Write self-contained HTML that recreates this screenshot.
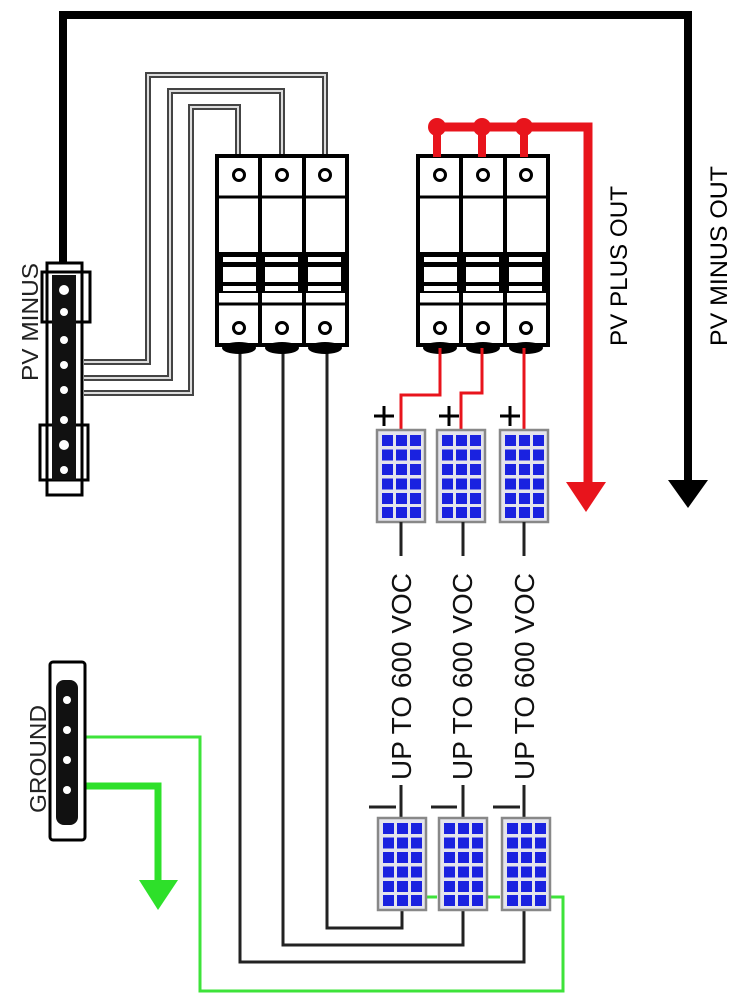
<!DOCTYPE html>
<html><head><meta charset="utf-8"><style>body{margin:0;background:#fff}svg{display:block}</style></head><body>
<svg width="735" height="1002" viewBox="0 0 735 1002" xmlns="http://www.w3.org/2000/svg" font-family="Liberation Sans, sans-serif">
<defs>
<g id="brk">
  <rect x="0" y="0" width="130" height="189" fill="#fff" stroke="#000" stroke-width="4"/>
  <line x1="43" y1="0" x2="43" y2="189" stroke="#000" stroke-width="4"/>
  <line x1="87" y1="0" x2="87" y2="189" stroke="#000" stroke-width="4"/>
  <line x1="0" y1="41" x2="130" y2="41" stroke="#000" stroke-width="3"/>
  <rect x="2" y="96" width="126" height="41" fill="#000"/>
  <rect x="6" y="101" width="33" height="5" fill="#fff"/><rect x="48" y="101" width="33" height="5" fill="#fff"/><rect x="91" y="101" width="33" height="5" fill="#fff"/>
  <rect x="6" y="111" width="33" height="15" fill="#fff"/><rect x="48" y="111" width="33" height="15" fill="#fff"/><rect x="91" y="111" width="33" height="15" fill="#fff"/>
  <rect x="6" y="130" width="33" height="5" fill="#fff"/><rect x="48" y="130" width="33" height="5" fill="#fff"/><rect x="91" y="130" width="33" height="5" fill="#fff"/>
  <line x1="0" y1="148" x2="130" y2="148" stroke="#000" stroke-width="3"/>
  <g fill="none" stroke="#000" stroke-width="3">
   <circle cx="22" cy="19" r="5.5"/><circle cx="65" cy="19" r="5.5"/><circle cx="108" cy="19" r="5.5"/>
   <circle cx="22" cy="172" r="5.5"/><circle cx="65" cy="172" r="5.5"/><circle cx="108" cy="172" r="5.5"/>
  </g>
  <ellipse cx="22" cy="192" rx="17" ry="6" fill="#000"/><ellipse cx="65" cy="192" rx="17" ry="6" fill="#000"/><ellipse cx="108" cy="192" rx="17" ry="6" fill="#000"/>
</g>
<g id="pnl">
  <rect x="0" y="0" width="48" height="92" fill="#e4e4ec" stroke="#888" stroke-width="2.5"/>
  <g fill="#1a22e0">
   <rect x="5" y="5" width="11" height="11"/><rect x="19" y="5" width="11" height="11"/><rect x="33" y="5" width="11" height="11"/>
   <rect x="5" y="19.5" width="11" height="11"/><rect x="19" y="19.5" width="11" height="11"/><rect x="33" y="19.5" width="11" height="11"/>
   <rect x="5" y="34" width="11" height="11"/><rect x="19" y="34" width="11" height="11"/><rect x="33" y="34" width="11" height="11"/>
   <rect x="5" y="48.5" width="11" height="11"/><rect x="19" y="48.5" width="11" height="11"/><rect x="33" y="48.5" width="11" height="11"/>
   <rect x="5" y="63" width="11" height="11"/><rect x="19" y="63" width="11" height="11"/><rect x="33" y="63" width="11" height="11"/>
   <rect x="5" y="77" width="11" height="11"/><rect x="19" y="77" width="11" height="11"/><rect x="33" y="77" width="11" height="11"/>
  </g>
</g>
</defs>

<polyline points="63,262 63,15 688,15 688,482" fill="none" stroke="#000" stroke-width="8"/>
<polygon points="668,480 708,480 688,508" fill="#000"/>

<g fill="none" stroke-linejoin="miter">
 <polyline points="84,362 148,362 148,75 325,75 325,158" stroke="#444" stroke-width="6"/>
 <polyline points="84,378 170,378 170,91 282,91 282,158" stroke="#444" stroke-width="6"/>
 <polyline points="84,393 191,393 191,107 238,107 238,158" stroke="#444" stroke-width="6"/>
 <polyline points="84,362 148,362 148,75 325,75 325,158" stroke="#ddd" stroke-width="2"/>
 <polyline points="84,378 170,378 170,91 282,91 282,158" stroke="#ddd" stroke-width="2"/>
 <polyline points="84,393 191,393 191,107 238,107 238,158" stroke="#ddd" stroke-width="2"/>
</g>

<rect x="47" y="263" width="35" height="232" fill="#fff" stroke="#000" stroke-width="3"/>
<rect x="42" y="272" width="48" height="50" fill="none" stroke="#000" stroke-width="3"/>
<rect x="40" y="425" width="48" height="55" fill="none" stroke="#000" stroke-width="3"/>
<rect x="52" y="275" width="24" height="205" fill="#111"/>
<g fill="#fff"><circle cx="64" cy="290" r="5"/><circle cx="64" cy="312" r="4"/><circle cx="64" cy="340" r="4"/><circle cx="64" cy="365" r="4"/><circle cx="64" cy="390" r="4"/><circle cx="64" cy="420" r="4"/><circle cx="64" cy="445" r="5"/><circle cx="64" cy="470" r="4"/></g>
<text transform="translate(38,381) rotate(-90)" font-size="23" fill="#222" textLength="118" lengthAdjust="spacingAndGlyphs">PV MINUS</text>

<g fill="none" stroke="#222" stroke-width="3">
 <polyline points="240,345 240,962 524,962 524,905"/>
 <polyline points="283,345 283,945 463,945 463,905"/>
 <polyline points="327,345 327,928 402,928 402,905"/>
</g>

<use href="#brk" x="217" y="156"/>
<use href="#brk" x="418" y="156"/>

<polyline points="430,127 588,127 588,485" fill="none" stroke="#e8141c" stroke-width="9"/>
<polygon points="566,482 606,482 586,512" fill="#e8141c"/>
<g fill="#e8141c"><circle cx="437" cy="127" r="9"/><circle cx="482" cy="127" r="9"/><circle cx="524" cy="127" r="9"/>
<rect x="433" y="127" width="8" height="30"/><rect x="478" y="127" width="8" height="30"/><rect x="520" y="127" width="8" height="30"/></g>
<g fill="none" stroke="#e8141c" stroke-width="3">
 <polyline points="440,348 440,395 401,395 401,430"/>
 <polyline points="482,348 482,393 461,393 461,430"/>
 <polyline points="524,348 524,430"/>
</g>

<use href="#pnl" x="377" y="430"/><use href="#pnl" x="437" y="430"/><use href="#pnl" x="500" y="430"/>
<g stroke="#000" stroke-width="3">
 <line x1="374" y1="416" x2="394" y2="416"/><line x1="384" y1="406" x2="384" y2="426"/>
 <line x1="439" y1="416" x2="459" y2="416"/><line x1="449" y1="406" x2="449" y2="426"/>
 <line x1="500" y1="416" x2="520" y2="416"/><line x1="510" y1="406" x2="510" y2="426"/>
</g>

<g stroke="#222" stroke-width="3">
 <line x1="401" y1="522" x2="401" y2="556"/><line x1="401" y1="785" x2="401" y2="818"/>
 <line x1="463" y1="522" x2="463" y2="556"/><line x1="463" y1="785" x2="463" y2="818"/>
 <line x1="524" y1="522" x2="524" y2="556"/><line x1="524" y1="785" x2="524" y2="818"/>
 <line x1="369" y1="807" x2="396" y2="807"/><line x1="431" y1="807" x2="457" y2="807"/><line x1="493" y1="807" x2="520" y2="807"/>
</g>
<g font-size="28" fill="#111">
 <text transform="translate(411,780) rotate(-90)">UP TO 600 VOC</text>
 <text transform="translate(472,780) rotate(-90)">UP TO 600 VOC</text>
 <text transform="translate(534,780) rotate(-90)">UP TO 600 VOC</text>
</g>

<g fill="none" stroke="#3ee33a" stroke-width="3">
 <polyline points="85,737 200,737 200,991 563,991 563,897 548,897"/>
 <line x1="425" y1="897" x2="437" y2="897"/><line x1="485" y1="897" x2="500" y2="897"/>
</g>
<polyline points="85,786 158,786 158,882" fill="none" stroke="#2ee02a" stroke-width="7"/>
<polygon points="139,880 178,880 158,910" fill="#2ee02a"/>

<use href="#pnl" x="378" y="818"/><use href="#pnl" x="439" y="818"/><use href="#pnl" x="502" y="818"/>

<rect x="50" y="662" width="35" height="178" rx="3" fill="#fff" stroke="#000" stroke-width="3"/>
<rect x="56" y="680" width="22" height="145" rx="8" fill="#111"/>
<g fill="#fff"><circle cx="67" cy="700" r="4"/><circle cx="67" cy="730" r="4"/><circle cx="67" cy="760" r="4"/><circle cx="67" cy="790" r="4"/></g>
<text transform="translate(46,813) rotate(-90)" font-size="23" fill="#222" textLength="108" lengthAdjust="spacingAndGlyphs">GROUND</text>

<text transform="translate(627,346) rotate(-90)" font-size="24" fill="#000" textLength="160" lengthAdjust="spacingAndGlyphs">PV PLUS OUT</text>
<text transform="translate(727,346) rotate(-90)" font-size="24" fill="#000" textLength="180" lengthAdjust="spacingAndGlyphs">PV MINUS OUT</text>
</svg>
</body></html>
